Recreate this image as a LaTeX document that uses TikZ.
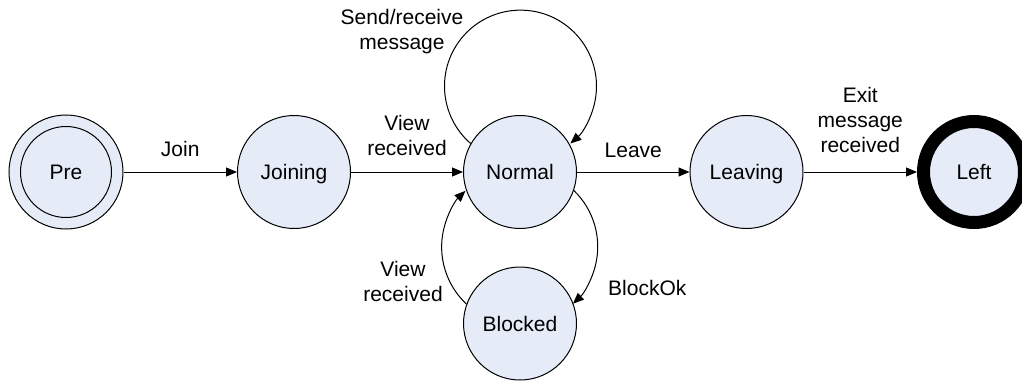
\documentclass[tikz,border=0pt]{standalone}
\usepackage{fontspec}
\setmainfont{Liberation Sans}
\usetikzlibrary{arrows.meta,positioning}
\definecolor{mist}{RGB}{230,236,247}
\tikzset{
  >={Triangle[length=11pt,width=9pt]},
  state/.style={circle,draw=black,fill=mist,line width=1pt,minimum size=113pt,
    inner sep=0pt,text height=15pt,text depth=0pt,font=\fontsize{21}{25}\selectfont},
  lbl/.style={font=\fontsize{21}{25}\selectfont,align=center,inner sep=0pt},
  flow/.style={->,line width=1pt},
}
\begin{document}
\begin{tikzpicture}[x=1pt,y=1pt]
  \useasboundingbox (0,0) rectangle (1022,381);
  % states
  \node[state,minimum size=114pt] (pre) at (66,209) {};
  \node[state,minimum size=91pt] (prein) at (66,209) {Pre};
  \node[state] (joining) at (294,209) {Joining};
  \node[state] (normal) at (520,209) {Normal};
  \node[state] (leaving) at (746.5,209) {Leaving};
  \node[state,line width=13pt,minimum size=101pt] (left) at (974,209) {Left};
  \node[state] (blocked) at (520,57.5) {Blocked};
  % transitions
  \draw[flow] (pre) -- node[lbl,above=15pt]{Join} (joining);
  \draw[flow] (joining) -- node[lbl,above=15.5pt]{View\\received} (normal);
  \draw[flow] (normal) -- node[lbl,above=14pt]{Leave} (leaving);
  \draw[flow] (leaving) -- node[lbl,above=19pt]{Exit\\message\\received} (left);
  \draw[flow] (normal.150) arc[start angle=229,end angle=-49,radius=76];
  \draw[flow] (normal.-19) arc[start angle=46,end angle=-47,radius=78];
  \draw[flow] (blocked.160) arc[start angle=227,end angle=134,radius=78];
  % labels on the curved ones
  \node[lbl] (sendlbl) at (402,349) {Send/receive\\message};
  \node[lbl] (viewlbl) at (403,100) {View\\received};
  \node[lbl,anchor=base west] (oklbl) at (608,86) {BlockOk};
\end{tikzpicture}
\end{document}
